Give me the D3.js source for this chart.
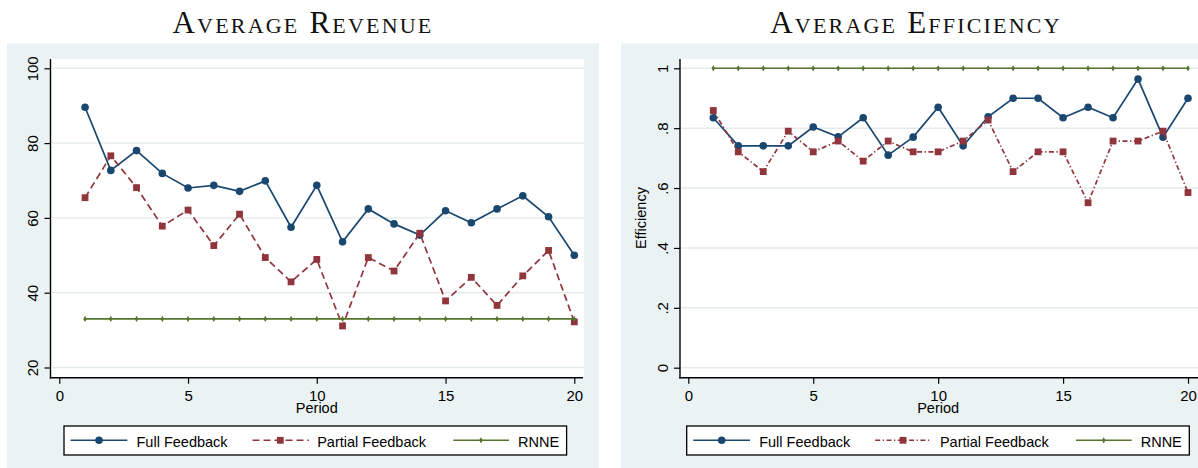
<!DOCTYPE html>
<html>
<head>
<meta charset="utf-8">
<script src="https://cdn.jsdelivr.net/npm/d3@7"></script>
<style>
  html, body { margin: 0; padding: 0; background: #ffffff; }
  svg { display: block; }
  .tick text { font-family: "Liberation Sans", Arial, sans-serif; }
</style>
</head>
<body>
<svg id="chart" width="1198" height="468"></svg>
<script>
// ---- data -------------------------------------------------------------
const periods = [1, 2, 3, 4, 5, 6, 7, 8, 9, 10, 11, 12, 13, 14, 15, 16, 17, 18, 19, 20];

const revenueFull    = [89.6, 72.7, 78.0, 71.9, 68.0, 68.7, 67.1, 69.9, 57.5, 68.7,
                        53.6, 62.4, 58.4, 55.4, 61.9, 58.7, 62.4, 65.9, 60.3, 50.0];
const revenuePartial = [65.4, 76.6, 68.1, 57.8, 62.1, 52.6, 61.0, 49.4, 42.9, 48.9,
                        31.1, 49.4, 45.8, 55.9, 37.8, 44.1, 36.6, 44.5, 51.3, 32.2];
const revenueRNNE    = [33, 33, 33, 33, 33, 33, 33, 33, 33, 33,
                        33, 33, 33, 33, 33, 33, 33, 33, 33, 33];

const efficiencyFull    = [0.835, 0.741, 0.741, 0.741, 0.804, 0.771, 0.835, 0.710, 0.770, 0.870,
                           0.741, 0.838, 0.900, 0.900, 0.835, 0.870, 0.835, 0.964, 0.770, 0.900];
const efficiencyPartial = [0.859, 0.721, 0.655, 0.790, 0.721, 0.757, 0.690, 0.757, 0.721, 0.721,
                           0.757, 0.827, 0.655, 0.721, 0.721, 0.551, 0.757, 0.757, 0.790, 0.585];
const efficiencyRNNE    = [1, 1, 1, 1, 1, 1, 1, 1, 1, 1,
                           1, 1, 1, 1, 1, 1, 1, 1, 1, 1];

const seriesNames = ["Full Feedback", "Partial Feedback", "RNNE"];

const xTicks = [0, 5, 10, 15, 20];
const revenueTicks = [20, 40, 60, 80, 100];
const efficiencyTicks = [0, 0.2, 0.4, 0.6, 0.8, 1];
const efficiencyTickLabels = ["0", ".2", ".4", ".6", ".8", "1"];

// ---- styling ----------------------------------------------------------
const NAVY = "#1a476f", MAROON = "#90353b", GREEN = "#55752f";
const REGION_BG = "#eaf2f3", GRID = "#e3ebed";
const SANS = '"Liberation Sans", Arial, sans-serif';
const SERIF = '"Liberation Serif", "Times New Roman", serif';

const svg = d3.select("#chart");

function drawPanel(cfg) {
  const g = svg.append("g");

  // graph region and plot region
  g.append("rect")
    .attr("x", cfg.region[0]).attr("y", 43.5)
    .attr("width", cfg.region[1] - cfg.region[0]).attr("height", 468 - 43.5)
    .attr("fill", REGION_BG);
  g.append("rect")
    .attr("x", cfg.plot[0]).attr("y", 59)
    .attr("width", cfg.plot[1] - cfg.plot[0]).attr("height", 377.7 - 59)
    .attr("fill", "#ffffff");

  // title
  g.append("text")
    .attr("x", cfg.titleX).attr("y", 33.3)
    .attr("text-anchor", "middle")
    .style("font-family", SERIF)
    .style("font-size", "31px")
    .style("font-variant", "small-caps")
    .style("letter-spacing", "2.2px")
    .attr("fill", "#111")
    .text(cfg.title);

  const x = d3.scaleLinear().domain([0, 20]).range(cfg.xRange);
  const y = d3.scaleLinear().domain(cfg.yDomain).range([cfg.yBottom, 68.3]);

  // horizontal grid lines
  g.append("g").selectAll("line").data(cfg.yTicks).join("line")
    .attr("x1", cfg.plot[0] + 1).attr("x2", cfg.plot[1])
    .attr("y1", d => y(d)).attr("y2", d => y(d))
    .attr("stroke", GRID).attr("stroke-width", 1.4);

  // y axis
  const yAxis = g.append("g")
    .attr("transform", `translate(${cfg.plot[0]},0)`)
    .call(d3.axisLeft(y).tickValues(cfg.yTicks).tickSize(6).tickSizeOuter(0)
      .tickFormat((d, i) => cfg.yTickLabels[i]));
  yAxis.select(".domain").remove();
  yAxis.selectAll(".tick line").attr("stroke", "#000").attr("stroke-width", 1.2);
  yAxis.selectAll(".tick text")
    .attr("transform", "rotate(-90)")
    .attr("x", 0).attr("y", -12.5).attr("dy", 0)
    .attr("text-anchor", "middle")
    .style("font-size", "15px").attr("fill", "#000");
  g.append("line")
    .attr("x1", cfg.plot[0]).attr("x2", cfg.plot[0])
    .attr("y1", 59).attr("y2", 378.4)
    .attr("stroke", "#000").attr("stroke-width", 1.4);

  // x axis
  const xAxis = g.append("g")
    .attr("transform", "translate(0,377.7)")
    .call(d3.axisBottom(x).tickValues(xTicks).tickSize(6).tickSizeOuter(0).tickPadding(6));
  xAxis.select(".domain").remove();
  xAxis.selectAll(".tick line").attr("stroke", "#000").attr("stroke-width", 1.2);
  xAxis.selectAll(".tick text")
    .attr("y", 23.3).attr("dy", 0)
    .style("font-size", "15px").attr("fill", "#000");
  g.append("line")
    .attr("x1", cfg.plot[0] - 0.7).attr("x2", cfg.axisEnd)
    .attr("y1", 377.7).attr("y2", 377.7)
    .attr("stroke", "#000").attr("stroke-width", 1.4);

  // axis titles
  g.append("text")
    .attr("x", x(10)).attr("y", 413.4)
    .attr("text-anchor", "middle")
    .style("font-family", SANS).style("font-size", "14.5px")
    .text("Period");
  if (cfg.yLabel) {
    g.append("text")
      .attr("transform", `translate(646,${(cfg.yBottom + 68.3) / 2}) rotate(-90)`)
      .attr("text-anchor", "middle")
      .style("font-family", SANS).style("font-size", "14.5px")
      .text(cfg.yLabel);
  }

  // series: full, partial, RNNE (drawn in that order)
  const line = d3.line().x(d => x(d[0])).y(d => y(d[1]));
  const styles = [
    { color: NAVY,   dash: null,             marker: "circle" },
    { color: MAROON, dash: cfg.partialDash,  marker: "square" },
    { color: GREEN,  dash: null,             marker: "diamond" }
  ];
  cfg.series.forEach((vals, si) => {
    const st = styles[si];
    const pts = periods.map((p, i) => [p, vals[i]]);
    g.append("path")
      .attr("d", line(pts))
      .attr("fill", "none")
      .attr("stroke", st.color)
      .attr("stroke-width", si === 2 ? 1.6 : 1.7)
      .attr("stroke-dasharray", st.dash);
    drawMarkers(g, st, pts.map(d => [x(d[0]), y(d[1])]));
  });

  // legend
  const L = cfg.legendX, lw = 502.6, ly = 426, lh = 29, cy = 440.3;
  const lg = g.append("g");
  lg.append("rect")
    .attr("x", L).attr("y", ly).attr("width", lw).attr("height", lh)
    .attr("fill", "#fff").attr("stroke", "#000").attr("stroke-width", 1.3);
  const items = [
    { a: 6.6,   b: 63.3,  m: 35,    t: 72.5 },
    { a: 188.5, b: 245,   m: 216.3, t: 253.2 },
    { a: 389.3, b: 445,   m: 417,   t: 454 }
  ];
  items.forEach((it, si) => {
    const st = styles[si];
    lg.append("line")
      .attr("x1", L + it.a).attr("x2", L + it.b)
      .attr("y1", cy).attr("y2", cy)
      .attr("stroke", st.color).attr("stroke-width", 1.6)
      .attr("stroke-dasharray", st.dash);
    drawMarkers(lg, st, [[L + it.m, cy]]);
    lg.append("text")
      .attr("x", L + it.t).attr("y", 446.6)
      .style("font-family", SANS).style("font-size", "14.5px")
      .text(seriesNames[si]);
  });
}

function drawMarkers(g, st, xy) {
  if (st.marker === "circle") {
    g.append("g").selectAll("circle").data(xy).join("circle")
      .attr("cx", d => d[0]).attr("cy", d => d[1]).attr("r", 3.8)
      .attr("fill", st.color);
  } else if (st.marker === "square") {
    const s = 6.8;
    g.append("g").selectAll("rect").data(xy).join("rect")
      .attr("x", d => d[0] - s / 2).attr("y", d => d[1] - s / 2)
      .attr("width", s).attr("height", s)
      .attr("fill", st.color);
  } else {
    const sym = d3.symbol().type(d3.symbolDiamond).size(11);
    g.append("g").selectAll("path").data(xy).join("path")
      .attr("transform", d => `translate(${d[0]},${d[1]})`)
      .attr("d", sym)
      .attr("fill", st.color);
  }
}

// Average Revenue
drawPanel({
  title: "Average Revenue", titleX: 303,
  region: [7, 599], plot: [50.5, 584], axisEnd: 583,
  xRange: [59.3, 574.3], yDomain: [20, 100], yBottom: 367.5,
  yTicks: revenueTicks, yTickLabels: revenueTicks.map(String),
  series: [revenueFull, revenuePartial, revenueRNNE],
  partialDash: "7,4",
  legendX: 64
});

// Average Efficiency
drawPanel({
  title: "Average Efficiency", titleX: 916,
  region: [621, 1213], plot: [680, 1214], axisEnd: 1214,
  xRange: [688.3, 1188], yDomain: [0, 1], yBottom: 367.7,
  yTicks: efficiencyTicks, yTickLabels: efficiencyTickLabels,
  series: [efficiencyFull, efficiencyPartial, efficiencyRNNE],
  partialDash: "5,2.5,1.3,2.5",
  yLabel: "Efficiency",
  legendX: 686.7
});
</script>
</body>
</html>
